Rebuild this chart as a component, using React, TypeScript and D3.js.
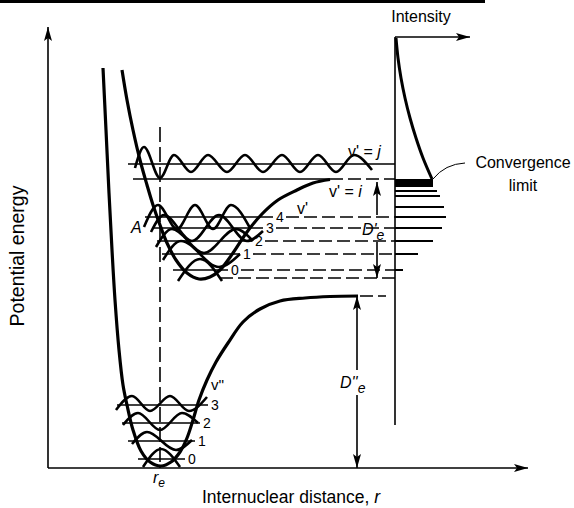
import * as d3 from 'd3';
import React from 'react';

const W = 574;
const H = 508;

// [r, E] in arbitrary units (origin = axes corner)
const groundCurve: [number, number][] = [
  [55, 400], [58, 338], [61, 275], [64, 218], [67, 168], [71, 118], [75, 83], [79, 63],
  [85, 38], [93, 17], [102, 6], [113, 2], [123, 6], [132, 16], [139, 30], [145, 48],
  [151, 68], [159, 88], [168, 106], [180, 125], [195, 146], [212, 159], [232, 167],
  [257, 170], [282, 171.5], [310, 172],
];
const excitedCurve: [number, number][] = [
  [74, 398], [79, 368], [85, 338], [92, 308], [99, 283], [105, 263], [112, 243],
  [119, 225], [128, 208], [139, 195], [151, 189], [162, 191], [172, 198], [185, 215],
  [199, 236], [214, 254], [230, 268], [249, 278], [265, 285], [282, 288.5],
];

// vibrational levels v'' = 0..3 and v' = 0..4
const groundLevels = [9, 27, 45, 63];
const groundSpans = [[90, 137], [80, 147], [74, 152], [69, 160]];
const excitedLevels = [198, 214, 227, 240, 251];
const excitedSpans = [[125, 180], [114, 192], [109, 204], [104, 215], [97, 225]];

// wavefunction extrema
const groundWaves: [number, number][][] = [
  [[95, 1], [113, 19], [132, 1]],
  [[84, 24], [99, 36], [128, 18], [144, 28]],
  [[75, 43], [90, 55], [112, 38], [134, 55], [150, 45]],
  [[68, 58], [84, 72], [102, 57], [122, 72], [141, 57], [159, 71]],
];
const excitedWaves: [number, number][][] = [
  [[130, 187], [152, 209], [174, 187]],
  [[115, 208], [133, 227], [171, 201], [192, 214]],
  [[108, 221], [124, 239], [156, 215], [188, 239], [205, 227]],
  [[103, 236], [116, 253], [144, 227], [171, 253], [199, 227], [215, 237]],
  [[96, 241], [110, 263], [129, 239], [147, 263], [165, 239], [183, 263], [202, 240]],
];
const continuumWave: [number, number][] = [
  [87, 300], [96, 321], [112, 290], [126, 313], [143, 296], [160, 313], [179, 296],
  [197, 313], [215, 296], [234, 313], [252, 296], [270, 313], [288, 296], [306, 313], [324, 298],
];

// spectrum: line energies and their lengths (intensity)
const spectrumLines = [277, 272, 261, 251, 240, 227, 214, 198];
const spectrumIntensity = [42, 45, 49, 51, 47, 38, 23, 8];
const envelope: [number, number][] = [
  [348, 430], [350, 410], [353, 390], [357, 370], [362, 350], [368, 330], [375, 310], [384, 289],
];

const levelJ = 304;
const levelI = 289;
const excitedMin = 190;
const groundDiss = 172;
const rE = 112;
const specR = 347;

export default function App() {
  const x = d3.scaleLinear().domain([0, 480]).range([48, 528]);
  const y = d3.scaleLinear().domain([0, 440]).range([468, 28]);
  const smooth = d3.line<[number, number]>().x(d => x(d[0])).y(d => y(d[1])).curve(d3.curveCatmullRom.alpha(0.5));
  const wave = d3.line<[number, number]>().x(d => x(d[0])).y(d => y(d[1])).curve(d3.curveMonotoneX);
  const font = '"Liberation Sans", Arial, Helvetica, sans-serif';
  const dash = '13,5';
  const k = '#000';

  return (
    <svg width={W} height={H} style={{ position: 'absolute', left: 0, top: 0, background: '#fff' }} fontFamily={font}>
      <defs>
        <marker id="head" viewBox="0 0 14 8" refX="14" refY="4" markerWidth="14" markerHeight="8"
          markerUnits="userSpaceOnUse" orient="auto-start-reverse">
          <path d="M0,0 L14,4 L0,8 L3,4 Z" fill={k} />
        </marker>
      </defs>
      <rect x={0} y={0} width={485} height={3} fill={k} />

      {/* axes */}
      <line x1={x(0)} y1={y(0)} x2={x(0)} y2={y(441)} stroke={k} strokeWidth={1.6} markerEnd="url(#head)" />
      <line x1={x(0)} y1={y(0)} x2={x(480)} y2={y(0)} stroke={k} strokeWidth={1.6} markerEnd="url(#head)" />
      <text transform={`translate(24,256) rotate(-90)`} textAnchor="middle" fontSize={19.5}>Potential energy</text>
      <text x={291} y={503} textAnchor="middle" fontSize={17.5}>Internuclear distance, <tspan fontStyle="italic">r</tspan></text>
      <text x={x(rE) - 7} y={y(-15)} fontSize={16} fontStyle="italic">r<tspan dy={4} fontSize={12}>e</tspan></text>

      {/* r_e dashed */}
      <line x1={x(rE)} y1={y(341)} x2={x(rE)} y2={y(0)} stroke={k} strokeWidth={1.6} strokeDasharray="15,5" />

      {/* potential curves */}
      <path d={smooth(groundCurve) ?? ''} fill="none" stroke={k} strokeWidth={3.2} />
      <path d={smooth(excitedCurve) ?? ''} fill="none" stroke={k} strokeWidth={3.2} />
      <line x1={x(312)} y1={y(groundDiss)} x2={x(338)} y2={y(groundDiss)} stroke={k} strokeWidth={1.6} strokeDasharray={dash} />

      {/* ground levels */}
      {groundLevels.map((E, i) => (
        <g key={'g' + i}>
          <line x1={x(groundSpans[i][0])} y1={y(E)} x2={x(groundSpans[i][1])} y2={y(E)} stroke={k} strokeWidth={1.6} />
          <path d={wave(groundWaves[i]) ?? ''} fill="none" stroke={k} strokeWidth={2.6} />
          <text x={x(groundSpans[i][1]) + 3} y={y(E) + 5} fontSize={14}>{i}</text>
        </g>
      ))}
      <text x={x(163)} y={y(78)} fontSize={15}>v''</text>

      {/* excited levels */}
      {excitedLevels.map((E, i) => (
        <g key={'e' + i}>
          <line x1={x(excitedSpans[i][0])} y1={y(E)} x2={x(excitedSpans[i][1])} y2={y(E)} stroke={k} strokeWidth={1.6} />
          <path d={wave(excitedWaves[i]) ?? ''} fill="none" stroke={k} strokeWidth={2.6} />
          <text x={x(excitedSpans[i][1]) + 3} y={y(E) + 5} fontSize={14}>{i}</text>
          <line x1={x(excitedSpans[i][1]) + 13} y1={y(E)} x2={x(specR)} y2={y(E)} stroke={k} strokeWidth={1.6} strokeDasharray={dash} />
        </g>
      ))}
      <line x1={x(172)} y1={y(excitedMin)} x2={x(specR)} y2={y(excitedMin)} stroke={k} strokeWidth={1.6} strokeDasharray={dash} />
      <text x={x(83)} y={y(235)} fontSize={16} fontStyle="italic">A</text>
      <text x={x(249)} y={y(254)} fontSize={16}>v'</text>

      {/* continuum */}
      <line x1={x(80)} y1={y(levelJ)} x2={x(specR)} y2={y(levelJ)} stroke={k} strokeWidth={1.6} />
      <line x1={x(85)} y1={y(levelI)} x2={x(282)} y2={y(levelI)} stroke={k} strokeWidth={1.6} />
      <line x1={x(282)} y1={y(levelI)} x2={x(specR)} y2={y(levelI)} stroke={k} strokeWidth={1.6} strokeDasharray={dash} />
      <path d={wave(continuumWave) ?? ''} fill="none" stroke={k} strokeWidth={2.6} />
      <text x={x(300)} y={y(311)} fontSize={16}>v' = <tspan fontStyle="italic">j</tspan></text>
      <text x={x(281)} y={y(271)} fontSize={16}>v' = <tspan fontStyle="italic">i</tspan></text>

      {/* dissociation energies */}
      <line x1={x(329)} y1={y(253)} x2={x(329)} y2={y(286)} stroke={k} strokeWidth={1.6} markerEnd="url(#head)" />
      <line x1={x(329)} y1={y(226)} x2={x(329)} y2={y(190)} stroke={k} strokeWidth={1.6} markerEnd="url(#head)" />
      <text x={x(314)} y={y(233)} fontSize={16} fontStyle="italic">D'<tspan dy={5} fontSize={14}>e</tspan></text>
      <line x1={x(309)} y1={y(98)} x2={x(309)} y2={y(172)} stroke={k} strokeWidth={1.6} markerEnd="url(#head)" />
      <line x1={x(309)} y1={y(73)} x2={x(309)} y2={y(0)} stroke={k} strokeWidth={1.6} markerEnd="url(#head)" />
      <text x={x(292)} y={y(80)} fontSize={16} fontStyle="italic">D''<tspan dy={5} fontSize={14}>e</tspan></text>

      {/* spectrum */}
      <line x1={x(specR)} y1={y(431)} x2={x(specR)} y2={y(43)} stroke={k} strokeWidth={1.6} />
      <line x1={x(specR)} y1={y(431)} x2={x(422)} y2={y(431)} stroke={k} strokeWidth={1.6} markerEnd="url(#head)" />
      <text x={421} y={22} textAnchor="middle" fontSize={16}>Intensity</text>
      <path d={smooth(envelope) ?? ''} fill="none" stroke={k} strokeWidth={3} />
      <rect x={x(specR)} y={y(levelI)} width={x(385) - x(specR)} height={y(281) - y(levelI)} fill={k} />
      {spectrumLines.map((E, i) => (
        <line key={'s' + i} x1={x(specR)} y1={y(E)} x2={x(specR + spectrumIntensity[i])} y2={y(E)} stroke={k} strokeWidth={2} />
      ))}
      <path d={`M${x(385)},${y(289)} Q${x(397)},${y(304)} ${x(417)},${y(305)}`} fill="none" stroke={k} strokeWidth={1} />
      <text x={523} y={168} textAnchor="middle" fontSize={16}>Convergence</text>
      <text x={523} y={191} textAnchor="middle" fontSize={16}>limit</text>
    </svg>
  );
}
